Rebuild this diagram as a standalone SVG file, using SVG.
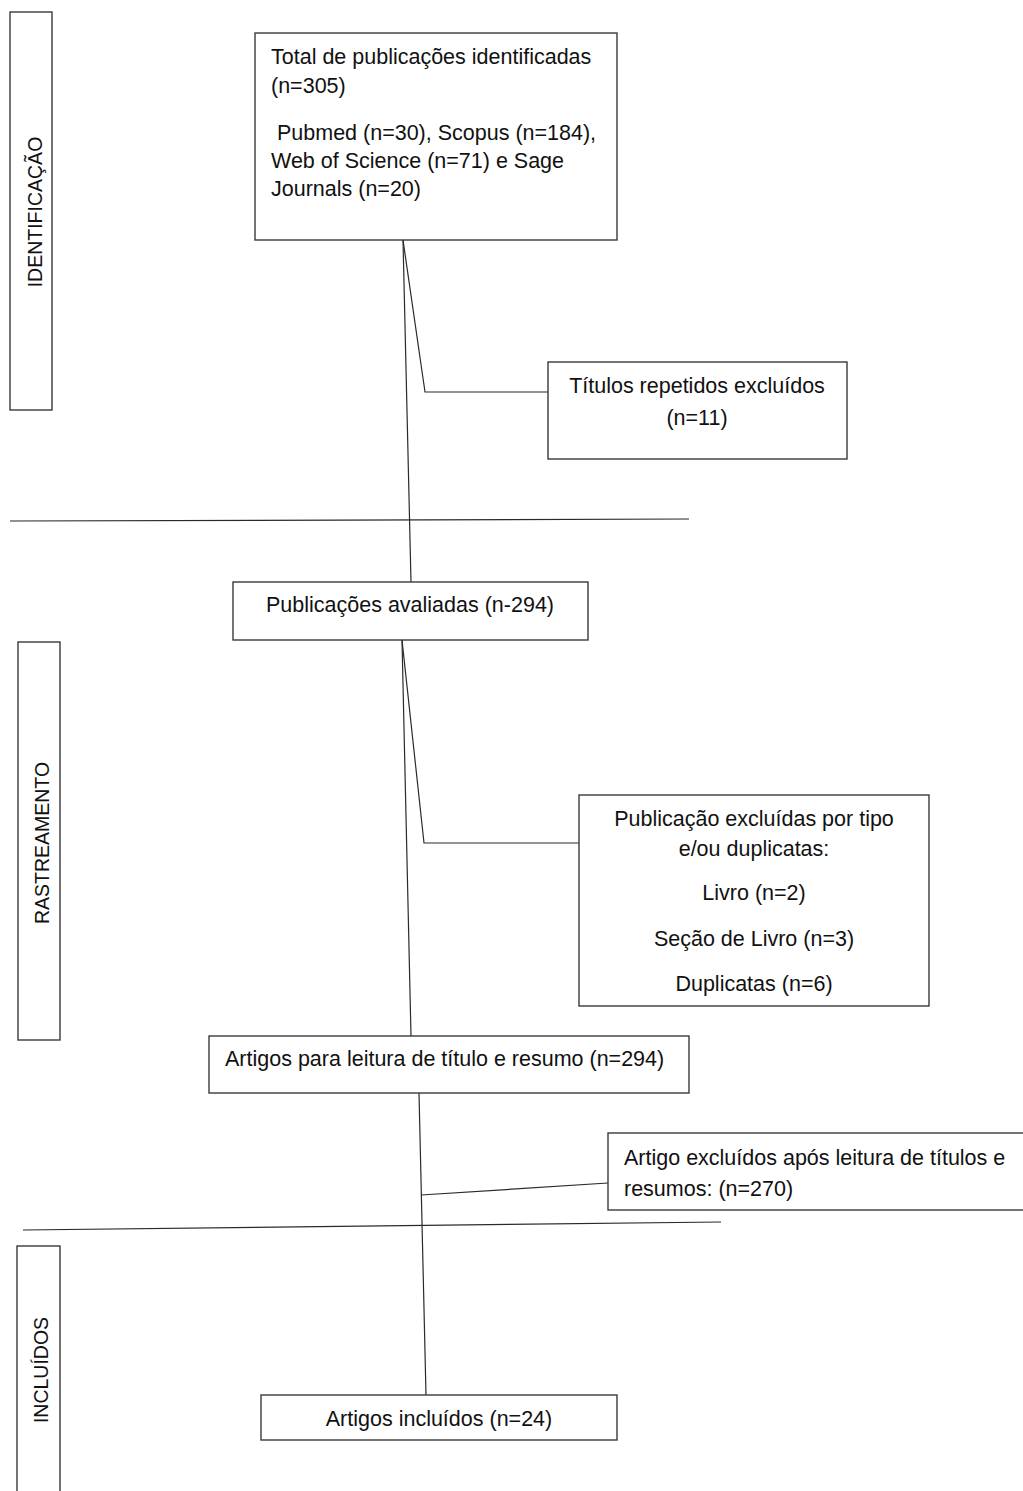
<svg xmlns="http://www.w3.org/2000/svg" width="1023" height="1491" viewBox="0 0 1023 1491">
<style>
.box{fill:#fff;stroke:#3a3a3a;stroke-width:1.4}
.ln{fill:none;stroke:#2a2a2a;stroke-width:1.2}
text{font-family:"Liberation Sans",Arial,sans-serif;font-size:21.5px;fill:#111}
.c{text-anchor:middle}
.side{font-size:19.5px}
</style>
<rect width="1023" height="1491" fill="#fff"/>
<g id="connectors">
<polyline class="ln" points="403,240 411,582"/>
<polyline class="ln" points="403,240 425,392 548,392"/>
<polyline class="ln" points="402,640 411,1036"/>
<polyline class="ln" points="402,640 424,843 579,843"/>
<polyline class="ln" points="419,1093 426,1395"/>
<polyline class="ln" points="421,1195 608,1183"/>
<line class="ln" x1="10" y1="521" x2="689" y2="519"/>
<line class="ln" x1="23" y1="1230" x2="721" y2="1222"/>
</g>
<g id="stage-identificacao">
<rect class="box" x="10" y="12" width="42" height="398"/>
<text class="side c" transform="translate(42,212) rotate(-90)">IDENTIFICAÇÃO</text>
</g>
<g id="stage-rastreamento">
<rect class="box" x="18" y="642" width="42" height="398"/>
<text class="side c" transform="translate(49,843) rotate(-90)">RASTREAMENTO</text>
</g>
<g id="stage-incluidos">
<rect class="box" x="17" y="1246" width="43" height="260"/>
<text class="side c" transform="translate(48,1370) rotate(-90)">INCLUÍDOS</text>
</g>
<g id="n-total">
<rect class="box" x="255" y="33" width="362" height="207"/>
<text x="271" y="64">Total de publicações identificadas</text>
<text x="271" y="93">(n=305)</text>
<text x="271" y="140" xml:space="preserve"> Pubmed (n=30), Scopus (n=184),</text>
<text x="271" y="168">Web of Science (n=71) e Sage</text>
<text x="271" y="196">Journals (n=20)</text>
</g>
<g id="n-titulos">
<rect class="box" x="548" y="362" width="299" height="97"/>
<text class="c" x="697" y="393">Títulos repetidos excluídos</text>
<text class="c" x="697" y="425">(n=11)</text>
</g>
<g id="n-avaliadas">
<rect class="box" x="233" y="582" width="355" height="58"/>
<text class="c" x="410" y="612">Publicações avaliadas (n-294)</text>
</g>
<g id="n-excluidas-tipo">
<rect class="box" x="579" y="795" width="350" height="211"/>
<text class="c" x="754" y="826">Publicação excluídas por tipo</text>
<text class="c" x="754" y="856">e/ou duplicatas:</text>
<text class="c" x="754" y="900">Livro (n=2)</text>
<text class="c" x="754" y="946">Seção de Livro (n=3)</text>
<text class="c" x="754" y="991">Duplicatas (n=6)</text>
</g>
<g id="n-leitura">
<rect class="box" x="209" y="1036" width="480" height="57"/>
<text x="225" y="1066">Artigos para leitura de título e resumo (n=294)</text>
</g>
<g id="n-excluidos-leitura">
<rect class="box" x="608" y="1133" width="430" height="77"/>
<text x="624" y="1165">Artigo excluídos após leitura de títulos e</text>
<text x="624" y="1196">resumos: (n=270)</text>
</g>
<g id="n-incluidos">
<rect class="box" x="261" y="1395" width="356" height="45"/>
<text class="c" x="439" y="1426">Artigos incluídos (n=24)</text>
</g>
</svg>
